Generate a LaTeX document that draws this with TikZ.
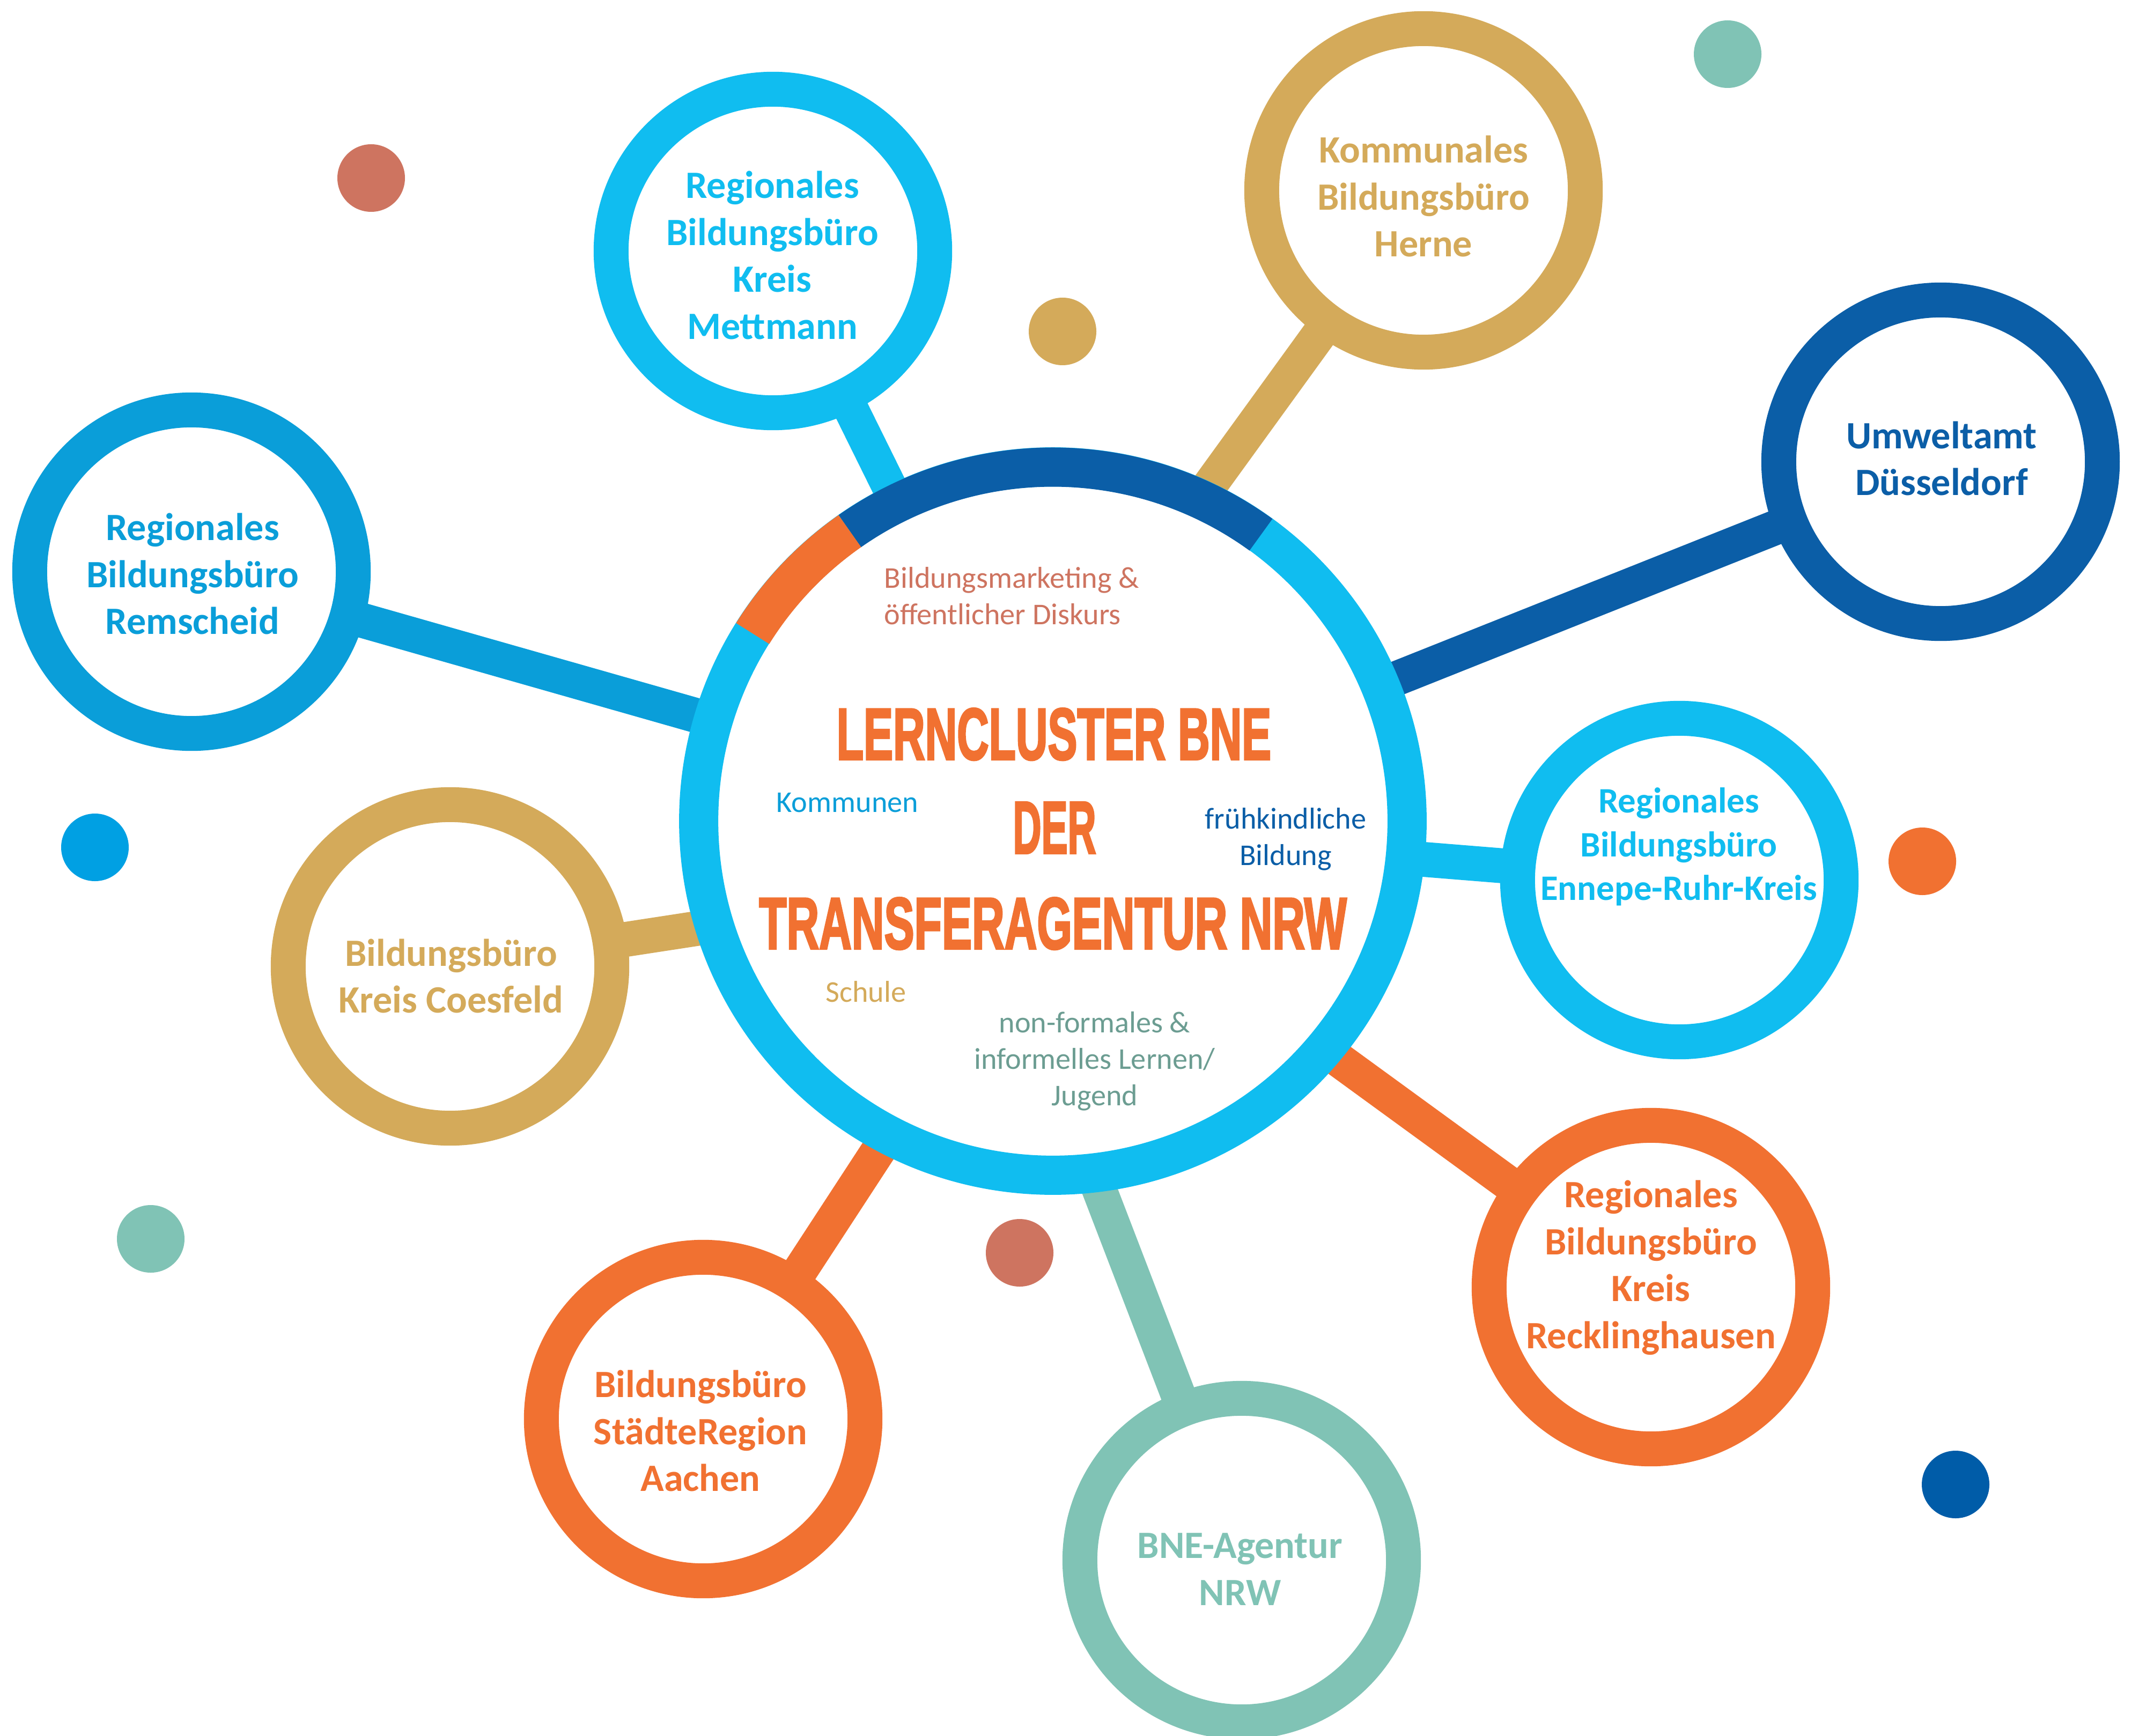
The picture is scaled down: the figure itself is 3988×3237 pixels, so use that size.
\documentclass[tikz,border=0pt]{standalone}
\usepackage{fontspec}
\setmainfont{Carlito}
\newfontfamily\titlefont{Liberation Sans Bold}[FakeBold=3]
\usepackage{graphicx}
\usetikzlibrary{backgrounds}
\definecolor{bnecyan}{HTML}{10BDF0}
\definecolor{bneblue}{HTML}{0A9ED9}
\definecolor{bnedark}{HTML}{0B5EA7}
\definecolor{bnegold}{HTML}{D4AA5A}
\definecolor{bneorange}{HTML}{F17131}
\definecolor{bneteal}{HTML}{80C3B5}
\definecolor{bnered}{HTML}{CE7460}
\definecolor{bnegrey}{HTML}{6C9D92}
\definecolor{dotblue}{HTML}{00A0E3}
\definecolor{dotdark}{HTML}{005CA8}
\tikzstyle{hub} = [circle, minimum size=6.03cm, inner sep=0pt, line width=0.65cm, fill=white]
\tikzstyle{tag} = [align=center, inner sep=0pt, font=\bfseries\fontsize{20.5}{24.9}\selectfont]
\tikzstyle{note} = [inner sep=0pt, font=\fontsize{16}{19.4}\selectfont]
\tikzstyle{link} = [line width=0.65cm]
\tikzstyle{head} = [inner sep=0pt, anchor=base, text=bneorange, font=\titlefont]

\begin{document}
\begin{tikzpicture}[x=0.01cm, y=-0.01cm]
        \useasboundingbox (0,0) rectangle (3988,3237);

        \foreach \px/\py/\col in {692/332/bnered, 1981/618/bnegold, 3221/101/bneteal, 177/1580/dotblue,
                3584/1606/bneorange, 281/2310/bneteal, 1901/2336/bnered, 3646/2768/dotdark}
            \fill[\col] (\px,\py) circle[radius=63];

        \node (ring) [circle, draw=bnecyan, fill=white, line width=0.73cm, minimum size=13.2cm, inner sep=0pt] at (1963,1531) {};
        \draw [bnedark, line width=0.73cm] ([shift={(-54:660)}]ring.center) arc[start angle=-54, end angle=-125, radius=660];
        \draw [bneorange, line width=0.73cm] ([shift={(-125:660)}]ring.center) arc[start angle=-125, end angle=-148, radius=660];

        \node (c1) [hub, draw=bnecyan] at (1441,468) {};
        \node (c2) [hub, draw=bnegold] at (2654,355) {};
        \node (c3) [hub, draw=bnedark] at (3618,861) {};
        \node (c4) [hub, draw=bnecyan] at (3131,1641) {};
        \node (c5) [hub, draw=bneorange] at (3078,2400) {};
        \node (c6) [hub, draw=bneteal] at (2315,2909) {};
        \node (c7) [hub, draw=bneorange] at (1311,2646) {};
        \node (c8) [hub, draw=bnegold] at (839,1802) {};
        \node (c9) [hub, draw=bneblue] at (357,1066) {};

        \coordinate (p1) at (1682,956);
        \coordinate (p2) at (2225,947);
        \coordinate (p3) at (2554,1285);
        \coordinate (p4) at (2599,1598);
        \coordinate (p5) at (2452,1944);
        \coordinate (p6) at (2030,2167);
        \coordinate (p7) at (1668,2099);
        \coordinate (p8) at (1353,1723);
        \coordinate (p9) at (1350,1349);

        \begin{scope}[on background layer]
        \fill[white] (0,0) rectangle (3988,3237);
        \draw [link, bnecyan] (c1.center) -- (p1);
        \draw [link, bnegold] (c2.center) -- (p2);
        \draw [link, bnedark] (c3.center) -- (p3);
        \draw [link, bnecyan] (c4.center) -- (p4);
        \draw [link, bneorange] (c5.center) -- (p5);
        \draw [link, bneteal] (c6.center) -- (p6);
        \draw [link, bneorange] (c7.center) -- (p7);
        \draw [link, bnegold] (c8.center) -- (p8);
        \draw [link, bneblue] (c9.center) -- (p9);
        \end{scope}

        \node (t1) [tag, text=bnecyan] at (1440,476) {Regionales\\Bildungsbüro\\Kreis\\Mettmann};
        \node (t2) [tag, text=bnegold] at (2654,366) {Kommunales\\Bildungsbüro\\Herne};
        \node (t3) [tag, text=bnedark] at (3620,855) {Umweltamt\\Düsseldorf};
        \node (t4) [tag, text=bnecyan, font=\bfseries\fontsize{19}{23.2}\selectfont] at (3130,1579) {Regionales\\Bildungsbüro\\Ennepe-Ruhr-Kreis};
        \node (t5) [tag, text=bneorange] at (3078,2364) {Regionales\\Bildungsbüro\\Kreis\\Recklinghausen};
        \node (t6) [tag, text=bneteal] at (2312,2926) {BNE-Agentur\\NRW};
        \node (t7) [tag, text=bneorange] at (1306,2668) {Bildungsbüro\\StädteRegion\\Aachen};
        \node (t8) [tag, text=bnegold] at (841,1820) {Bildungsbüro\\Kreis Coesfeld};
        \node (t9) [tag, text=bneblue] at (359,1070) {Regionales\\Bildungsbüro\\Remscheid};

        \node (h1) [head] at (1965,1416) {\resizebox{8.1cm}{0.95cm}{LERNCLUSTER BNE}};
        \node (h2) [head] at (1966,1591) {\resizebox{1.55cm}{0.95cm}{DER}};
        \node (h3) [head] at (1963,1769) {\resizebox{10.95cm}{0.95cm}{TRANSFERAGENTUR NRW}};

        \node (n1) [note, text=bnered, align=left, anchor=west] at (1648,1111) {Bildungsmarketing \&\\öffentlicher Diskurs};
        \node (n2) [note, text=bneblue, anchor=base west] at (1447,1514) {Kommunen};
        \node (n3) [note, text=bnedark, align=center] at (2397,1565) {frühkindliche\\Bildung};
        \node (n4) [note, text=bnegold, anchor=base west] at (1539,1868) {Schule};
        \node (n5) [note, text=bnegrey, align=center] at (2041,1979) {non-formales \&\\informelles Lernen/\\Jugend};
\end{tikzpicture}
\end{document}
